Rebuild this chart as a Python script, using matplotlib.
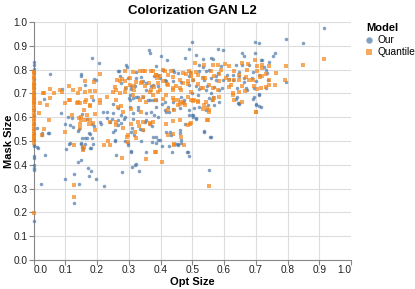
import matplotlib
matplotlib.use("Agg")
import matplotlib.pyplot as plt
from matplotlib.lines import Line2D

plt.rcParams['font.family'] = ['Liberation Sans', 'DejaVu Sans']

title = "Colorization GAN L2"
x_label = "Opt Size"
y_label = "Mask Size"
legend_title = "Model"
series_names = ["Our", "Quantile"]
tick_values = [0.0, 0.1, 0.2, 0.3, 0.4, 0.5, 0.6, 0.7, 0.8, 0.9, 1.0]
tick_labels = ["0.0", "0.1", "0.2", "0.3", "0.4", "0.5", "0.6", "0.7", "0.8", "0.9", "1.0"]

# "Our" series
our_x = [
    0, 0, 0, 0, 0, 0, 0, 0, 0, 0, 0, 0, 0, 0, 0, 0, 0, 0, 0, 0, 0, 0, 0, 0,
    0.914, 0.794, 0.848, 0.698, 0.710, 0.498, 0.489, 0.364, 0.368, 0.580, 0.598,
    0.402, 0.512, 0.183, 0.207, 0.658, 0.663, 0.697, 0.761, 0.754, 0.535, 0.476,
    0.564, 0.290, 0.294, 0.421, 0.387, 0.522, 0.637, 0.721, 0.743, 0.535,
    0.052, 0.149, 0.150, 0.267, 0.439, 0.442, 0.455, 0.494, 0.554, 0.627, 0.648,
    0.690, 0.731, 0.738, 0.794, 0.191, 0.197, 0.324, 0.340, 0.392, 0.413, 0.465,
    0.502, 0.533, 0.575, 0.596, 0.617, 0.664, 0.569, 0.543, 0.522, 0.585, 0.669,
    0.695, 0.711, 0.308, 0.319, 0.355, 0.376, 0.089, 0.034, 0.162, 0.301, 0.322,
    0.086, 0.188, 0.232, 0.251, 0.266, 0.303, 0.329, 0.345, 0.361, 0.376, 0.387,
    0.404, 0.418, 0.439, 0.470, 0.491, 0.502, 0.522, 0.549, 0.561, 0.564, 0.585,
    0.637, 0.643, 0.646, 0.692, 0.702, 0.711, 0.152, 0.167,
    0.099, 0.120, 0.115, 0.125, 0.143, 0.152, 0.167, 0.183, 0.190, 0.178, 0.214,
    0.246, 0.256, 0.266, 0.284, 0.311, 0.313, 0.334, 0.355, 0.368, 0.374, 0.387,
    0.397, 0.418, 0.431, 0.460, 0.478, 0.502, 0.512, 0.538, 0.556, 0.050, 0.028,
    0.010,
    0.013, 0.037, 0.025, 0.101, 0.112, 0.099, 0.128, 0.128, 0.139, 0.144, 0.150,
    0.149, 0.152, 0.157, 0.162, 0.172, 0.175, 0.181, 0.181, 0.186, 0.197, 0.223,
    0.256, 0.261, 0.280, 0.287, 0.298, 0.308, 0.310, 0.319, 0.322, 0.332, 0.340,
    0.355, 0.374, 0.387, 0.404, 0.426, 0.437, 0.449, 0.456, 0.463, 0.484, 0.491,
    0.554,
    0.268, 0.407, 0.271, 0.298, 0.324, 0.345, 0.381, 0.397, 0.491, 0.277, 0.355,
    0.392, 0.418, 0.287, 0.308, 0.371, 0.439, 0.491,
    0.303, 0.313, 0.329, 0.366, 0.386, 0.413, 0.439, 0.465, 0.475, 0.250, 0.277,
    0.287, 0.303, 0.313, 0.329, 0.355, 0.371, 0.381, 0.392, 0.413, 0.423, 0.428,
    0.460, 0.491, 0.277, 0.350, 0.250, 0.266, 0.308, 0.318, 0.345, 0.376, 0.392,
    0.433, 0.454, 0.465, 0.460, 0.486, 0.298, 0.308, 0.256,
    0.559, 0.716, 0.590, 0.658, 0.679, 0.726, 0.522, 0.543, 0.580, 0.611, 0.648,
    0.689, 0.710, 0.736, 0.538, 0.559, 0.575, 0.627, 0.663, 0.700, 0.512, 0.548,
    0.595, 0.642, 0.674, 0.731,
    0.499, 0.517, 0.559, 0.554, 0.569, 0.543, 0.507, 0.499, 0.512, 0.642, 0.648,
    0.695, 0.710, 0.700, 0.716, 0.538, 0.559,
    0.109, 0.141, 0.175, 0.209, 0.219, 0.230, 0.240, 0.115, 0.151, 0.162, 0.183,
    0.156, 0.177, 0.047, 0.026, 0.010,
]
our_y = [
    0.830, 0.818, 0.802, 0.784, 0.762, 0.741, 0.722, 0.703, 0.681, 0.662, 0.631,
    0.604, 0.573, 0.551, 0.528, 0.503, 0.485, 0.478, 0.435, 0.430, 0.400, 0.385,
    0.380, 0.165,
    0.975, 0.930, 0.912, 0.917, 0.910, 0.916, 0.888, 0.884, 0.870, 0.888, 0.882,
    0.856, 0.860, 0.850, 0.829, 0.870, 0.857, 0.870, 0.870, 0.857, 0.846, 0.850,
    0.843, 0.821, 0.812, 0.839, 0.814, 0.821, 0.821, 0.842, 0.832, 0.810,
    0.780, 0.783, 0.774, 0.793, 0.797, 0.790, 0.786, 0.790, 0.797, 0.776, 0.790,
    0.790, 0.797, 0.755, 0.748, 0.762, 0.755, 0.790, 0.769, 0.776, 0.755, 0.748,
    0.755, 0.769, 0.772, 0.755, 0.762, 0.748, 0.727, 0.716, 0.720, 0.713, 0.724,
    0.724, 0.699, 0.720, 0.730, 0.716, 0.734, 0.720, 0.678, 0.734, 0.682, 0.685,
    0.618, 0.671, 0.622, 0.657, 0.640, 0.671, 0.643, 0.685, 0.671, 0.671, 0.643,
    0.657, 0.622, 0.636, 0.664, 0.629, 0.608, 0.643, 0.650, 0.671, 0.685, 0.664,
    0.678, 0.660, 0.654, 0.678, 0.657, 0.646, 0.615, 0.594,
    0.573, 0.598, 0.566, 0.559, 0.552, 0.514, 0.514, 0.573, 0.562, 0.531, 0.573,
    0.594, 0.545, 0.587, 0.594, 0.556, 0.594, 0.552, 0.587, 0.573, 0.562, 0.517,
    0.503, 0.538, 0.538, 0.545, 0.570, 0.601, 0.594, 0.541, 0.517, 0.534, 0.527,
    0.556,
    0.472, 0.443, 0.321, 0.465, 0.489, 0.339, 0.363, 0.240, 0.412, 0.321, 0.422,
    0.486, 0.475, 0.468, 0.489, 0.387, 0.352, 0.374, 0.469, 0.486, 0.341, 0.313,
    0.500, 0.440, 0.370, 0.500, 0.485, 0.458, 0.391, 0.398, 0.405, 0.372, 0.500,
    0.454, 0.496, 0.493, 0.479, 0.478, 0.453, 0.486, 0.489, 0.493, 0.454, 0.439,
    0.377,
    0.795, 0.800, 0.772, 0.765, 0.765, 0.751, 0.772, 0.765, 0.772, 0.744, 0.744,
    0.730, 0.751, 0.723, 0.730, 0.730, 0.751, 0.737,
    0.693, 0.679, 0.686, 0.672, 0.672, 0.665, 0.665, 0.686, 0.672, 0.616, 0.609,
    0.602, 0.644, 0.616, 0.630, 0.616, 0.623, 0.609, 0.602, 0.630, 0.644, 0.623,
    0.637, 0.609, 0.574, 0.581, 0.539, 0.567, 0.539, 0.525, 0.546, 0.518, 0.504,
    0.525, 0.483, 0.504, 0.532, 0.455, 0.490, 0.455, 0.504,
    0.849, 0.842, 0.814, 0.821, 0.821, 0.810, 0.793, 0.793, 0.786, 0.779, 0.772,
    0.765, 0.779, 0.786, 0.758, 0.765, 0.758, 0.758, 0.765, 0.751, 0.730, 0.730,
    0.723, 0.723, 0.716, 0.723,
    0.700, 0.693, 0.700, 0.679, 0.651, 0.630, 0.637, 0.609, 0.595, 0.686, 0.658,
    0.686, 0.693, 0.651, 0.644, 0.539, 0.518,
    0.600, 0.543, 0.535, 0.581, 0.623, 0.595, 0.581, 0.490, 0.490, 0.511, 0.511,
    0.469, 0.469, 0.535, 0.535, 0.476,
]

# "Quantile" series
q_x = [
    0, 0, 0, 0, 0, 0, 0, 0, 0, 0, 0, 0, 0, 0, 0, 0, 0, 0, 0, 0, 0, 0, 0, 0, 0,
    0, 0, 0, 0, 0, 0, 0,
    0.914, 0.848, 0.794, 0.510, 0.580, 0.698, 0.677, 0.721, 0.603,
    0.209, 0.280, 0.303, 0.313, 0.345, 0.376, 0.387, 0.389, 0.407, 0.423, 0.439,
    0.460, 0.481, 0.497, 0.512, 0.540, 0.585, 0.617, 0.648, 0.669, 0.690, 0.713,
    0.731, 0.763, 0.792, 0.761, 0.731, 0.705, 0.162, 0.190, 0.146, 0.113, 0.123,
    0.084, 0.063, 0.031, 0.052, 0.178, 0.193, 0.263, 0.256, 0.290, 0.324, 0.343,
    0.364, 0.378, 0.397, 0.420, 0.439, 0.460, 0.486, 0.517, 0.535, 0.564, 0.617,
    0.632, 0.667,
    0.099, 0.113, 0.139, 0.148, 0.164, 0.178, 0.160, 0.169, 0.144, 0.151, 0.195,
    0.209, 0.230, 0.261, 0.277, 0.308, 0.334, 0.355, 0.387, 0.408, 0.444, 0.460,
    0.476, 0.496, 0.502, 0.517, 0.543, 0.554, 0.535, 0.585, 0.627, 0.632, 0.700,
    0.044, 0.016,
    0.034, 0.049, 0.026, 0.146, 0.175, 0.193, 0.240, 0.261, 0.282, 0.308, 0.319,
    0.332, 0.345, 0.366, 0.418, 0.439, 0.460, 0.486, 0.493, 0.549, 0.439, 0.465,
    0.293, 0.322,
    0.128, 0.160, 0.157, 0.223, 0.279, 0.298, 0.355, 0.384, 0.404, 0.441, 0.128,
    0.128, 0.554,
    0.287, 0.337, 0.350, 0.371, 0.386, 0.397, 0.413, 0.433, 0.470, 0.491, 0.271,
    0.287, 0.303, 0.318, 0.339, 0.350, 0.371, 0.392, 0.407, 0.423, 0.439, 0.449,
    0.470, 0.486, 0.261, 0.318, 0.465,
    0.250, 0.271, 0.287, 0.313, 0.345, 0.366, 0.376, 0.392, 0.418, 0.439, 0.454,
    0.465, 0.486, 0.261, 0.266, 0.282, 0.329, 0.339, 0.366, 0.376, 0.423, 0.444,
    0.454, 0.475, 0.345, 0.298, 0.386, 0.423, 0.475, 0.444,
    0.538, 0.564, 0.616, 0.658, 0.705, 0.742, 0.496, 0.517, 0.559, 0.590, 0.632,
    0.674, 0.705, 0.721, 0.501, 0.533, 0.569, 0.606, 0.648, 0.679, 0.721, 0.742,
    0.528, 0.554, 0.585, 0.622, 0.658, 0.695, 0.716, 0.742,
    0.496, 0.507, 0.517, 0.538, 0.548, 0.554, 0.569, 0.580, 0.627, 0.648, 0.658,
    0.700, 0.496, 0.548, 0.564,
    0.033, 0.089, 0.141, 0.162, 0.183, 0.052, 0.021, 0.115, 0.136, 0.162, 0.177,
    0.209, 0.120, 0.151, 0.162, 0.177, 0.188, 0.099, 0.146, 0.235, 0.240,
]
q_y = [
    0.792, 0.784, 0.771, 0.763, 0.748, 0.741, 0.733, 0.722, 0.716, 0.703, 0.695,
    0.684, 0.676, 0.668, 0.659, 0.651, 0.640, 0.629, 0.618, 0.603, 0.591, 0.582,
    0.571, 0.563, 0.552, 0.540, 0.531, 0.522, 0.512, 0.503, 0.492, 0.196,
    0.845, 0.818, 0.817, 0.829, 0.821, 0.839, 0.825, 0.818, 0.825,
    0.783, 0.762, 0.766, 0.790, 0.794, 0.794, 0.776, 0.766, 0.797, 0.776, 0.769,
    0.758, 0.783, 0.772, 0.790, 0.766, 0.780, 0.755, 0.776, 0.769, 0.755, 0.769,
    0.783, 0.786, 0.755, 0.734, 0.727, 0.720, 0.752, 0.748, 0.720, 0.730, 0.716,
    0.713, 0.702, 0.702, 0.720, 0.710, 0.710, 0.755, 0.727, 0.724, 0.748, 0.748,
    0.744, 0.727, 0.716, 0.741, 0.716, 0.724, 0.741, 0.741, 0.724, 0.724, 0.727,
    0.758, 0.710,
    0.660, 0.671, 0.664, 0.660, 0.671, 0.646, 0.629, 0.608, 0.598, 0.590, 0.615,
    0.674, 0.685, 0.671, 0.646, 0.636, 0.674, 0.664, 0.671, 0.678, 0.671, 0.657,
    0.650, 0.674, 0.668, 0.667, 0.664, 0.629, 0.636, 0.685, 0.692, 0.671, 0.622,
    0.650, 0.618,
    0.552, 0.590, 0.524, 0.573, 0.570, 0.545, 0.580, 0.566, 0.556, 0.573, 0.538,
    0.562, 0.580, 0.570, 0.573, 0.584, 0.587, 0.566, 0.570, 0.587, 0.531, 0.517,
    0.517, 0.514,
    0.482, 0.475, 0.464, 0.482, 0.429, 0.496, 0.426, 0.454, 0.413, 0.486, 0.317,
    0.263, 0.313,
    0.795, 0.793, 0.795, 0.793, 0.779, 0.772, 0.793, 0.795, 0.786, 0.793, 0.751,
    0.751, 0.737, 0.730, 0.744, 0.730, 0.716, 0.744, 0.751, 0.737, 0.723, 0.730,
    0.744, 0.751, 0.716, 0.716, 0.716,
    0.707, 0.700, 0.707, 0.693, 0.686, 0.707, 0.693, 0.707, 0.693, 0.679, 0.672,
    0.665, 0.686, 0.581, 0.644, 0.623, 0.581, 0.623, 0.574, 0.581, 0.630, 0.630,
    0.651, 0.658, 0.546, 0.525, 0.455, 0.525, 0.483, 0.483,
    0.821, 0.821, 0.814, 0.828, 0.814, 0.814, 0.786, 0.779, 0.793, 0.800, 0.793,
    0.800, 0.793, 0.807, 0.758, 0.765, 0.772, 0.765, 0.758, 0.758, 0.772, 0.758,
    0.723, 0.737, 0.751, 0.737, 0.730, 0.730, 0.723, 0.737,
    0.707, 0.672, 0.665, 0.651, 0.637, 0.623, 0.679, 0.714, 0.700, 0.707, 0.665,
    0.623, 0.574, 0.588, 0.672,
    0.703, 0.707, 0.700, 0.707, 0.686, 0.679, 0.658, 0.672, 0.661, 0.665, 0.651,
    0.658, 0.609, 0.602, 0.588, 0.588, 0.574, 0.539, 0.553, 0.501, 0.483,
]

W, H = 415, 289
fig = plt.figure(figsize=(W / 100, H / 100), dpi=100)
L, R, T, B = 33.5, 351, 22, 260
ax = fig.add_axes([L / W, 1 - B / H, (R - L) / W, (B - T) / H])

blue = "#4c78a8"
orange = "#f58518"

ax.scatter(our_x, our_y, s=6.5, c=blue, marker="o", alpha=0.7, linewidths=0,
           clip_on=False, zorder=3)
ax.scatter(q_x, q_y, s=5.5, c=orange, marker="s", alpha=0.7, linewidths=0,
           clip_on=False, zorder=3)

ax.set_xlim(0, 1)
ax.set_ylim(0, 1)
ax.set_xticks(tick_values)
ax.set_xticklabels(tick_labels)
ax.set_yticks(tick_values)
ax.set_yticklabels(tick_labels)
xl = ax.get_xticklabels()
xl[0].set_ha("left")
xl[-1].set_ha("right")

ax.grid(True, color="#dddddd", linewidth=0.8, zorder=0)
ax.set_axisbelow(True)
for s in ["top", "right"]:
    ax.spines[s].set_visible(False)
for s in ["left", "bottom"]:
    ax.spines[s].set_color("#888888")
    ax.spines[s].set_linewidth(0.8)
ax.tick_params(axis="both", colors="#888888", length=3.3, width=0.8,
               labelsize=7.3, labelcolor="#222222")
ax.tick_params(axis="x", pad=0.4)
ax.tick_params(axis="y", pad=1.2)

ax.set_xlabel(x_label, fontsize=8, fontweight="bold")
ax.set_ylabel(y_label, fontsize=8, fontweight="bold")
ax.xaxis.set_label_coords(0.5, -0.07)
ax.yaxis.set_label_coords(-0.061, 0.5)
ax.set_title(title, fontsize=9.5, fontweight="bold", pad=5.8)

handles = [
    Line2D([], [], marker="o", color=blue, linestyle="none", markersize=4.6,
           alpha=0.7, markeredgewidth=0),
    Line2D([], [], marker="s", color=orange, linestyle="none", markersize=4.6,
           alpha=0.7, markeredgewidth=0),
]
leg = ax.legend(handles, series_names, title=legend_title, frameon=False,
                loc="upper left", bbox_to_anchor=((366 - L) / (R - L), 0.995),
                fontsize=7.3, title_fontsize=8, handletextpad=0.5,
                handlelength=0.6, labelspacing=0.2, borderaxespad=0,
                borderpad=0)
leg.get_title().set_fontweight("bold")
leg._legend_box.align = "left"

fig.savefig("out.png", dpi=100)
